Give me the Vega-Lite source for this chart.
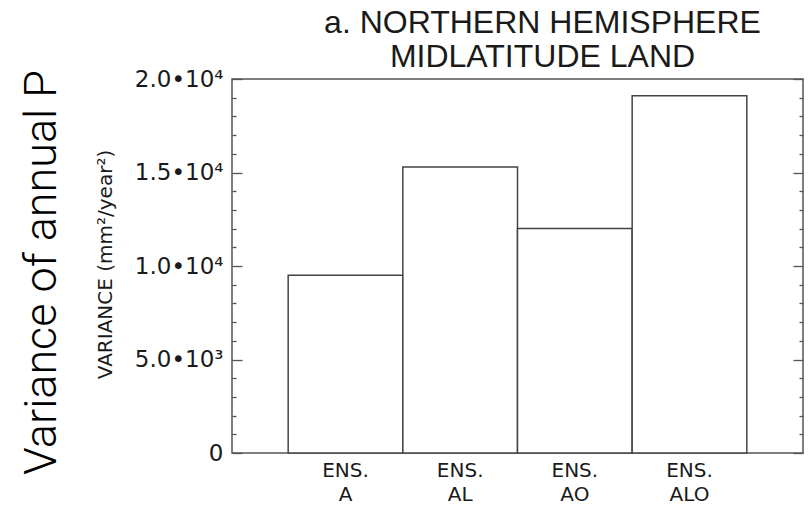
{
  "$schema": "https://vega.github.io/schema/vega-lite/v6.json",
  "width": 571,
  "height": 374,
  "autosize": {"type": "none"},
  "padding": {"left": 232, "top": 79, "right": 9, "bottom": 52},
  "background": "white",
  "title": {
    "text": ["a. NORTHERN HEMISPHERE", "MIDLATITUDE LAND"],
    "font": "Liberation Sans",
    "fontSize": 32,
    "fontWeight": "normal",
    "color": "#1a1a1a",
    "lineHeight": 34,
    "anchor": "middle",
    "dx": 25,
    "offset": -6
  },
  "config": {
    "view": {"stroke": "#555", "strokeWidth": 1.5},
    "axis": {"labelFont": "DejaVu Sans", "titleFont": "DejaVu Sans", "grid": false, "domain": false, "labelColor": "#1a1a1a", "titleColor": "#1a1a1a", "tickColor": "#555", "tickWidth": 1.3}
  },
  "data": {
    "values": [
      {"run": "ENS. A", "variance": 9500},
      {"run": "ENS. AL", "variance": 15300},
      {"run": "ENS. AO", "variance": 12000},
      {"run": "ENS. ALO", "variance": 19100}
    ]
  },
  "layer": [
    {
      "mark": {"type": "bar", "fill": "white", "stroke": "#444", "strokeWidth": 1.5},
      "encoding": {
        "x": {
          "field": "run", "type": "nominal", "sort": null,
          "scale": {"paddingInner": 0, "paddingOuter": 0.49},
          "axis": {"title": null, "labelAngle": 0, "labelExpr": "split(datum.label, ' ')", "labelFontSize": 20, "labelLineHeight": 24, "ticks": false, "labelPadding": 7}
        },
        "y": {
          "field": "variance", "type": "quantitative",
          "scale": {"domain": [0, 20000], "nice": false},
          "axis": {
            "orient": "left",
            "values": [0, 5000, 10000, 15000, 20000],
            "tickSize": -10,
            "labelExpr": "datum.value == 0 ? '0' : datum.value == 5000 ? '5.0•10³' : datum.value == 10000 ? '1.0•10⁴' : datum.value == 15000 ? '1.5•10⁴' : '2.0•10⁴'",
            "labelFontSize": 23,
            "labelPadding": 19,
            "title": "VARIANCE (mm²/year²)",
            "titleFontSize": 20,
            "titleFontWeight": "normal",
            "titleX": -121,
            "titleY": 185,
            "titleBaseline": "alphabetic"
          }
        }
      }
    },
    {
      "mark": {"type": "point", "opacity": 0},
      "encoding": {
        "y": {
          "field": "variance", "type": "quantitative",
          "axis": {
            "orient": "left",
            "values": [1000, 2000, 3000, 4000, 6000, 7000, 8000, 9000, 11000, 12000, 13000, 14000, 16000, 17000, 18000, 19000],
            "tickSize": -4,
            "labels": false,
            "title": "Variance of annual P",
            "titleFont": "Roboto",
            "titleFontWeight": 300,
            "titleFontSize": 45,
            "titleColor": "#000",
            "titleX": -177,
            "titleY": 193,
            "titleBaseline": "alphabetic"
          }
        }
      }
    },
    {
      "mark": {"type": "point", "opacity": 0},
      "encoding": {
        "y": {
          "field": "variance", "type": "quantitative",
          "axis": {"orient": "right", "values": [0, 5000, 10000, 15000, 20000], "tickSize": -10, "labels": false, "title": null}
        }
      }
    },
    {
      "mark": {"type": "point", "opacity": 0},
      "encoding": {
        "y": {
          "field": "variance", "type": "quantitative",
          "axis": {"orient": "right", "values": [1000, 2000, 3000, 4000, 6000, 7000, 8000, 9000, 11000, 12000, 13000, 14000, 16000, 17000, 18000, 19000], "tickSize": -4, "labels": false, "title": null}
        }
      }
    }
  ],
  "resolve": {"axis": {"y": "independent"}}
}
